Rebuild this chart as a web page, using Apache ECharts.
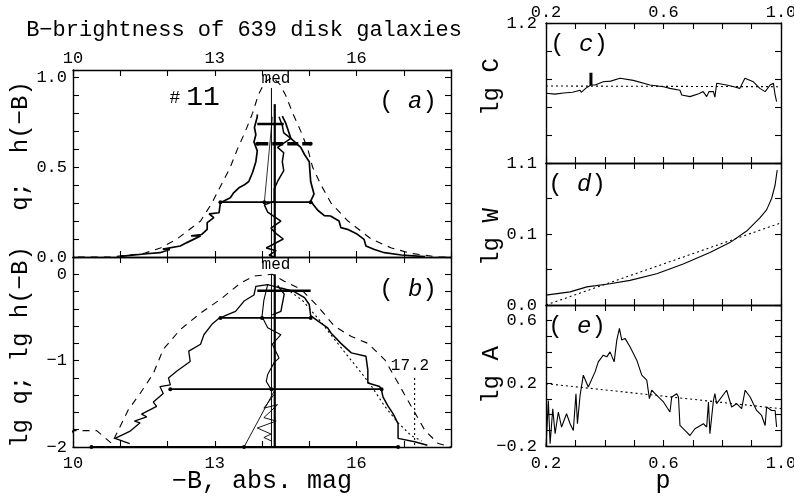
<!DOCTYPE html>
<html>
<head>
<meta charset="utf-8">
<script src="https://cdn.jsdelivr.net/npm/echarts@6/dist/echarts.min.js"></script>
<style>
  html, body { margin: 0; padding: 0; background: #fff; }
  #chart { width: 794px; height: 503px; }
</style>
</head>
<body>
<div id="chart"></div>
<script>
// ---- panel (a): q, h(-B) vs -B ----
var aDash = [[8.45, 0], [10.8, 0], [11.5, 0.02], [11.85, 0.05], [12.2, 0.1], [12.7, 0.2], [12.94, 0.3],
  [13.33, 0.5], [13.48, 0.6], [13.65, 0.7], [13.8, 0.8], [13.92, 0.9], [14.05, 0.97], [14.22, 1.0],
  [14.38, 0.96], [14.5, 0.9], [14.65, 0.8], [14.82, 0.7], [14.97, 0.6], [15.07, 0.5], [15.25, 0.4],
  [15.46, 0.3], [15.82, 0.2], [16.31, 0.1], [16.74, 0.05], [17.16, 0.02], [17.73, 0], [18, 0]];
var aLeft = [[11.0, 0.003], [11.56, 0.018], [11.84, 0.024], [12.05, 0.042], [11.9, 0.044], [12.27, 0.061],
  [12.41, 0.08], [12.55, 0.098], [12.7, 0.117], [12.5, 0.118], [12.72, 0.125], [12.84, 0.154], [12.84, 0.191],
  [12.98, 0.219], [12.88, 0.24], [13.09, 0.246], [13.12, 0.302], [13.33, 0.33], [13.4, 0.357],
  [13.51, 0.385], [13.62, 0.4], [13.72, 0.42], [13.8, 0.47], [13.87, 0.53], [13.9, 0.59], [13.83, 0.64],
  [13.87, 0.68], [13.84, 0.72], [13.9, 0.78], [13.9, 0.793]];
var aRight = [[14.43, 0.783], [14.5, 0.746], [14.61, 0.66], [14.82, 0.61], [14.9, 0.57], [15.0, 0.53],
  [15.03, 0.42], [15.1, 0.35], [15.03, 0.31], [15.18, 0.26], [15.32, 0.23], [15.45, 0.228], [15.63, 0.2],
  [15.67, 0.163], [15.81, 0.154], [16.02, 0.126], [16.16, 0.098], [16.2, 0.061], [16.38, 0.042],
  [16.59, 0.024], [16.95, 0.011], [17.45, 0.002]];
var aInner = [[14.36, 0.78], [14.43, 0.73], [14.46, 0.69], [14.61, 0.66], [14.33, 0.61], [14.46, 0.58],
  [14.43, 0.53], [14.46, 0.48], [14.33, 0.42], [14.26, 0.38], [14.26, 0.31]];
var aMedian = [[14.26, 0.31], [14.05, 0.29], [14.12, 0.25], [14.4, 0.2], [14.19, 0.16], [14.3, 0.13],
  [14.45, 0.1], [14.09, 0.05], [14.3, 0.035], [14.15, 0.01], [14.26, 0]];
var aMedThick = [[14.27, 0], [14.27, 0.85]];
var aMedThin = [[14.2, 0], [14.2, 0.94]];
var aDiag = [[14.05, 0.305], [14.22, 0.78]];
var aBarTop = [[13.9, 0.74], [14.46, 0.74]];
var aBarMid = [[13.9, 0.63], [15.03, 0.63]];
var aBarLow = [[13.12, 0.305], [14.05, 0.305], [15.03, 0.305]];

// ---- panel (b): lg q, lg h(-B) vs -B ----
var bDash = [[8.45, -2], [9.43, -2], [9.86, -1.96], [10.0, -1.81], [10.5, -1.81], [10.82, -1.96],
  [11.17, -1.57], [11.42, -1.38], [11.7, -1.15], [11.91, -0.87], [12.27, -0.64], [12.7, -0.45],
  [13.12, -0.29], [13.55, -0.1], [13.83, -0.02], [14.22, 0], [14.47, -0.08], [14.82, -0.17],
  [15.18, -0.37], [15.53, -0.6], [15.89, -0.72], [16.24, -0.8], [16.6, -0.99], [16.88, -1.26],
  [17.16, -1.53], [17.45, -1.81], [17.73, -1.96], [18, -2]];
var bDot = [[14.6, -0.2], [14.85, -0.3], [15.2, -0.52], [15.53, -0.75], [15.82, -0.95], [16.1, -1.14],
  [16.31, -1.29], [16.6, -1.53], [16.88, -1.72], [17.16, -1.87], [17.38, -1.93]];
var bCut = [[17.23, -1.2], [17.23, -2]];
var bLeft = [[11.2, -1.96], [10.89, -1.9], [11.2, -1.82], [11.42, -1.72], [11.3, -1.7], [11.56, -1.65],
  [11.45, -1.62], [11.77, -1.53], [11.7, -1.48], [11.91, -1.38], [11.84, -1.3], [12.06, -1.28],
  [12.02, -1.2], [12.2, -1.12], [12.48, -1.01], [12.45, -0.89], [12.7, -0.81], [12.77, -0.7],
  [12.94, -0.58], [13.09, -0.51], [13.26, -0.47], [13.44, -0.43], [13.62, -0.31], [13.83, -0.24],
  [13.87, -0.14], [14.12, -0.12], [14.4, -0.16]];
var bRight = [[14.4, -0.16], [14.68, -0.2], [14.9, -0.27], [15.0, -0.35], [15.03, -0.48], [15.18, -0.54],
  [15.39, -0.62], [15.46, -0.68], [15.67, -0.8], [15.89, -0.91], [16.2, -0.95], [16.24, -1.11],
  [16.24, -1.26], [16.49, -1.3], [16.53, -1.34], [16.56, -1.42], [16.67, -1.53], [16.77, -1.61],
  [16.88, -1.73], [16.88, -1.9], [17.23, -1.94], [17.5, -1.98]];
var bHook = [[14.33, -0.13], [14.47, -0.23], [14.4, -0.43], [14.22, -0.47]];
var bInner = [[14.12, -0.12], [14.04, -0.3], [14.0, -0.49], [14.12, -0.62], [14.4, -0.7], [14.22, -0.81],
  [14.36, -0.97], [14.26, -1.02], [14.12, -1.16], [14.09, -1.24], [14.2, -1.34]];
var bZig = [[14.26, -1.39], [14.04, -1.55], [14.33, -1.51], [14.04, -1.66], [14.3, -1.7], [13.9, -1.78],
  [14.19, -1.85], [14.04, -1.89], [14.2, -1.93]];
var bMedThick = [[14.27, 0], [14.27, -2]];
var bMedThin = [[14.2, 0], [14.2, -2]];
var bDiag = [[13.62, -2], [14.26, -1.35]];
var bBarTop = [[13.9, -0.19], [15.03, -0.19]];
var bBarMid = [[13.12, -0.505], [14.0, -0.505], [15.03, -0.505]];
var bBarLow = [[12.06, -1.33], [14.2, -1.33], [16.53, -1.33]];
var bBase = [[10.39, -2], [13.62, -2], [16.88, -2]];

// ---- panels (c), (d), (e) vs p ----
var cLine = [[0.2, 1.1498], [0.23, 1.1492], [0.26, 1.15], [0.29, 1.1505], [0.316, 1.152], [0.32, 1.1505],
  [0.336, 1.1535], [0.353, 1.1557], [0.367, 1.1557],
  [0.395, 1.158], [0.42, 1.1585], [0.452, 1.1605], [0.497, 1.159], [0.554, 1.1557], [0.6, 1.1545],
  [0.622, 1.1533], [0.656, 1.152], [0.662, 1.1486], [0.69, 1.1474], [0.72, 1.1495], [0.735, 1.151],
  [0.747, 1.1474], [0.755, 1.151], [0.77, 1.151], [0.775, 1.147], [0.781, 1.157], [0.815, 1.1557],
  [0.84, 1.1545], [0.86, 1.1533], [0.877, 1.1605], [0.906, 1.158], [0.928, 1.1533], [0.946, 1.151],
  [0.963, 1.1557], [0.974, 1.157], [0.98, 1.1486], [0.985, 1.1438]];
var cSpike = [[0.353, 1.1557], [0.353, 1.1645]];
var cFit = [[0.2, 1.155], [1.0, 1.1545]];
var dLine = [[0.2, 0.0139], [0.282, 0.0185], [0.339, 0.0255], [0.418, 0.03], [0.486, 0.0347],
  [0.577, 0.044], [0.667, 0.0579], [0.758, 0.074], [0.826, 0.0879], [0.883, 0.1042], [0.928, 0.1226],
  [0.951, 0.134], [0.968, 0.15], [0.98, 0.169], [0.987, 0.19]];
var dFit = [[0.2, 0], [1.0, 0.1157]];
var eLine = [[0.2, -0.208], [0.208, 0.091], [0.214, -0.186], [0.223, 0.038], [0.231, -0.122],
  [0.242, 0.017], [0.253, -0.079], [0.27, 0.006], [0.282, -0.058], [0.293, -0.101], [0.302, 0.134],
  [0.307, -0.058], [0.316, 0.123], [0.327, 0.252], [0.344, 0.177], [0.367, 0.273], [0.378, 0.337],
  [0.395, 0.38], [0.407, 0.369], [0.418, 0.401], [0.432, 0.337], [0.441, 0.476], [0.45, 0.551],
  [0.458, 0.476], [0.469, 0.487], [0.486, 0.433], [0.509, 0.348], [0.526, 0.252], [0.543, 0.22],
  [0.552, 0.102], [0.56, 0.156], [0.577, 0.123], [0.6, 0.081], [0.622, 0.017], [0.628, 0.113],
  [0.645, 0.134], [0.651, 0.113], [0.656, -0.069], [0.679, -0.112], [0.69, -0.133], [0.707, -0.09],
  [0.736, -0.058], [0.747, -0.079], [0.753, 0.081], [0.758, -0.122], [0.77, 0.091], [0.775, 0.134],
  [0.781, 0.07], [0.815, 0.156], [0.832, 0.049], [0.849, 0.07], [0.866, 0.038], [0.878, 0.156],
  [0.895, 0.113], [0.917, 0.027], [0.934, -0.005], [0.946, -0.069], [0.951, 0.049], [0.968, 0.027],
  [0.98, 0.027], [0.985, -0.079]];
var eFit = [[0.2, 0.198], [1.0, 0.038]];

var FONT = 'Liberation Mono';

function showAt(list, scale, text) {
  return function (v) {
    var k = Math.round(v * scale);
    if (Math.abs(v * scale - k) > 1e-6 || list.indexOf(k) < 0) return '';
    return text(k / scale);
  };
}
function num1(v) { return (v < 0 ? '\u2212' : '') + Math.abs(v).toFixed(1); }
function num0(v) { return v === 0 ? '0' : (v < 0 ? '\u2212' : '') + Math.abs(v); }

function axis(g, pos, min, max, step, fmt, margin) {
  return {
    type: 'value', gridIndex: g, position: pos, min: min, max: max, interval: step,
    axisLine: { onZero: false, lineStyle: { color: '#000', width: 1.4 } },
    axisTick: { inside: true, length: 6, lineStyle: { color: '#000', width: 1.1 } },
    splitLine: { show: false },
    axisLabel: fmt ? { formatter: fmt, color: '#000', fontFamily: FONT, fontSize: 17, margin: margin }
                   : { show: false }
  };
}

var fmtB = showAt([10, 13, 16], 1, function (v) { return String(v); });
var fmtP = showAt([2, 6, 10], 10, num1);

var xAxes = [
  axis(0, 'bottom', 10, 18, 1, null), axis(0, 'top', 10, 18, 1, fmtB, 3),
  axis(1, 'bottom', 10, 18, 1, fmtB, 8), axis(1, 'top', 10, 18, 1, null),
  axis(2, 'bottom', 0.2, 1, 0.1, null), axis(2, 'top', 0.2, 1, 0.1, fmtP, 2),
  axis(3, 'bottom', 0.2, 1, 0.1, null), axis(3, 'top', 0.2, 1, 0.1, null),
  axis(4, 'bottom', 0.2, 1, 0.1, fmtP, 9), axis(4, 'top', 0.2, 1, 0.1, null)
];
var yAxes = [
  axis(0, 'left', 0, 1.04, 0.1, showAt([0, 5, 10], 10, num1), 6), axis(0, 'right', 0, 1.04, 0.1, null),
  axis(1, 'left', -2, 0.2, 0.2, showAt([0, -1, -2], 1, num0), 6), axis(1, 'right', -2, 0.2, 0.2, null),
  axis(2, 'left', 1.1, 1.2, 0.02, showAt([11, 12], 10, num1), 9), axis(2, 'right', 1.1, 1.2, 0.02, null),
  axis(3, 'left', 0, 0.2, 0.05, showAt([0, 1], 10, num1), 9), axis(3, 'right', 0, 0.2, 0.05, null),
  axis(4, 'left', -0.2, 0.7, 0.1, showAt([6, 2, -2], 10, num1), 9), axis(4, 'right', -0.2, 0.7, 0.1, null)
];

function line(g, data, width, extra) {
  var s = {
    type: 'line', xAxisIndex: 2 * g, yAxisIndex: 2 * g, data: data, symbol: 'none', silent: true,
    lineStyle: { color: '#000', width: width }
  };
  for (var k in extra) s[k] = extra[k];
  return s;
}
function dashed(g, data, dash) {
  return line(g, data, 1.1, { clip: false, lineStyle: { color: '#000', width: 1.1, type: dash } });
}
function dotted(g, data) {
  return line(g, data, 1.1, { lineStyle: { color: '#000', width: 1.1, type: [2, 3] } });
}
function bar(g, data, width, dash) {
  return line(g, data, width, {
    symbol: 'circle', symbolSize: 4, showSymbol: true, itemStyle: { color: '#000' },
    lineStyle: { color: '#000', width: width, type: dash || 'solid' }
  });
}

var series = [
  dashed(0, aDash, [7, 6]), line(0, aLeft, 1.7), line(0, aRight, 1.7), line(0, aInner, 1.5),
  line(0, aMedian, 1.5), line(0, aMedThick, 2.2), line(0, aMedThin, 1), line(0, aDiag, 0.8),
  line(0, aBarTop, 2.4), bar(0, aBarMid, 3.6, [11, 4]), bar(0, aBarLow, 1.6),

  dashed(1, bDash, [7, 6]), dotted(1, bDot), dotted(1, bCut), line(1, bLeft, 1.3), line(1, bRight, 1.5),
  line(1, bHook, 1.4), line(1, bInner, 1.1), line(1, bZig, 0.9),
  line(1, bMedThick, 2.2), line(1, bMedThin, 1), line(1, bDiag, 0.9),
  line(1, bBarTop, 2.6), bar(1, bBarMid, 1.6), bar(1, bBarLow, 1.6), bar(1, bBase, 2),

  line(2, cLine, 1.1), line(2, cSpike, 3), dotted(2, cFit),
  line(3, dLine, 1.1), dotted(3, dFit),
  line(4, eLine, 1.1), dotted(4, eFit)
];

function txt(x, y, text, size, extra) {
  var style = { text: text, x: 0, y: 0, fill: '#000', font: size + 'px "' + FONT + '"',
    textAlign: 'center', textVerticalAlign: 'middle' };
  var el = { type: 'text', x: x, y: y, silent: true, style: style };
  for (var k in extra) el[k] = extra[k];
  return el;
}
function panelTag(x, y, letter) {
  var el = txt(x, y, '( {i|' + letter + '})', 24);
  el.style.rich = { i: { fontStyle: 'italic', fontSize: 24, fontFamily: FONT } };
  return el;
}

var graphics = [
  txt(244, 30, 'B\u2212brightness of 639 disk galaxies', 22),
  txt(175, 98, '#', 18), txt(203, 98, '11', 28),
  txt(276, 79, 'med', 16), txt(276, 265, 'med', 16),
  txt(410, 366, '17.2', 16),
  panelTag(408, 102, 'a'), panelTag(408, 290, 'b'),
  panelTag(579, 45, 'c'), panelTag(577, 185, 'd'), panelTag(577, 327, 'e'),
  txt(21, 146, 'q;  h(\u2212B)', 24, { rotation: Math.PI / 2 }),
  txt(21, 347, 'lg q; lg h(\u2212B)', 24, { rotation: Math.PI / 2 }),
  txt(492, 87, 'lg C', 24, { rotation: Math.PI / 2 }),
  txt(492, 237, 'lg W', 24, { rotation: Math.PI / 2 }),
  txt(492, 375, 'lg A', 24, { rotation: Math.PI / 2 }),
  txt(262, 481, '\u2212B, abs. mag', 25),
  txt(663, 481, 'p', 25)
];

var chart = echarts.init(document.getElementById('chart'));
chart.setOption({
  animation: false,
  backgroundColor: '#fff',
  grid: [
    { left: 73, top: 70, width: 378, height: 187, outerBoundsMode: 'none' },
    { left: 73, top: 257, width: 378, height: 190, outerBoundsMode: 'none' },
    { left: 546, top: 23, width: 235, height: 140, outerBoundsMode: 'none' },
    { left: 546, top: 163, width: 235, height: 142, outerBoundsMode: 'none' },
    { left: 546, top: 305, width: 235, height: 141, outerBoundsMode: 'none' }
  ],
  xAxis: xAxes,
  yAxis: yAxes,
  series: series,
  graphic: graphics
});
</script>
</body>
</html>
